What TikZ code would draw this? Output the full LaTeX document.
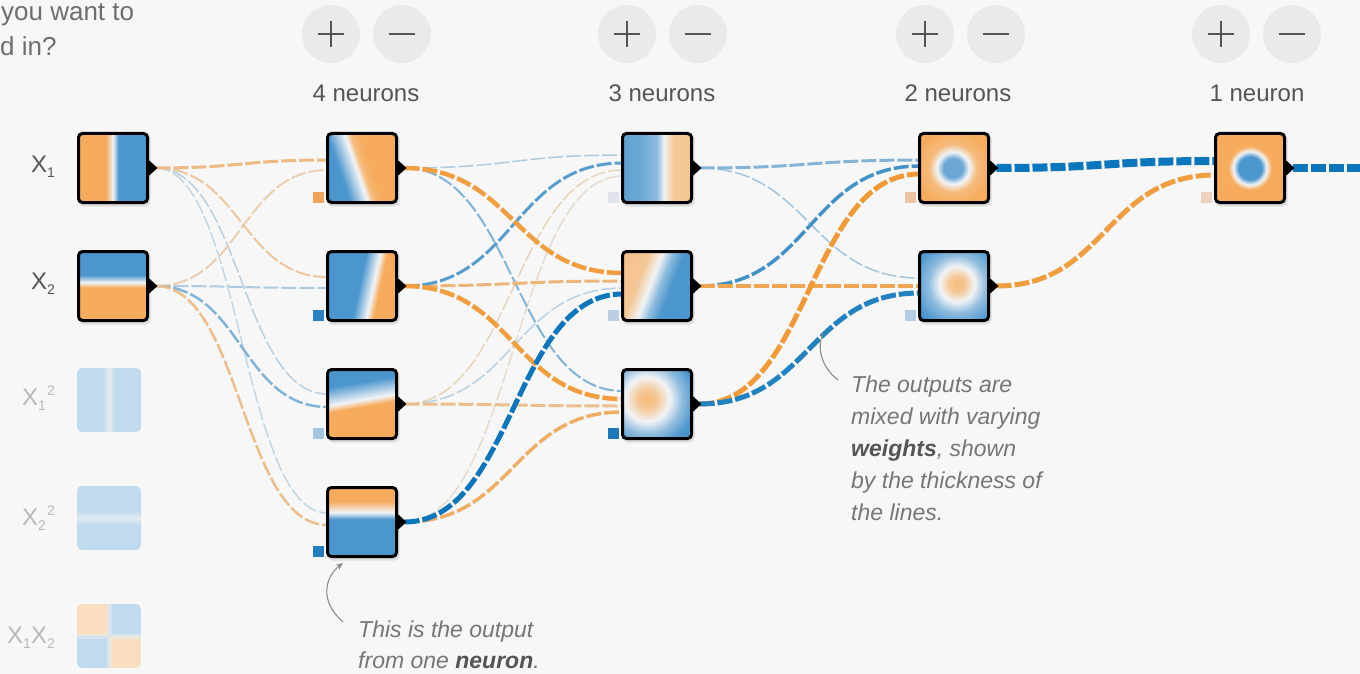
\documentclass[tikz,border=0pt]{standalone}
\usepackage{fontspec}
\setmainfont{Liberation Sans}
\usetikzlibrary{calc,arrows.meta}
\definecolor{bg}{RGB}{247,247,247}
\definecolor{pOr}{RGB}{246,172,92}
\definecolor{pBl}{RGB}{76,150,206}
\definecolor{pW}{RGB}{242,244,246}
\definecolor{lOr}{RGB}{242,150,45}
\definecolor{lBl}{RGB}{12,118,188}
\definecolor{lGr}{RGB}{228,231,234}
\definecolor{fBl}{RGB}{193,219,238}
\definecolor{fOr}{RGB}{250,222,192}
\definecolor{fW}{RGB}{226,235,242}
\definecolor{txt}{RGB}{85,85,85}
\definecolor{ftxt}{RGB}{185,185,185}
\definecolor{anntxt}{RGB}{118,118,118}
\definecolor{annln}{RGB}{140,140,140}
\definecolor{btnc}{RGB}{234,234,234}
\colorlet{bL}{pBl!60!pW}
\colorlet{bM}{pBl!82!pW}
\colorlet{oL}{pOr!62!pW}
\colorlet{oM}{pOr!80!pW}
\definecolor{cb11}{RGB}{240,165,90}
\definecolor{cb12}{RGB}{45,130,195}
\definecolor{cb13}{RGB}{165,198,225}
\definecolor{cb14}{RGB}{35,125,192}
\definecolor{cb21}{RGB}{222,228,234}
\definecolor{cb22}{RGB}{185,208,228}
\definecolor{cb23}{RGB}{30,120,190}
\definecolor{cb31}{RGB}{236,196,165}
\definecolor{cb32}{RGB}{180,205,226}
\definecolor{cbo}{RGB}{240,208,190}
% shadings for the neuron images
\pgfdeclarehorizontalshading{shXa}{100bp}{color(0bp)=(pOr); color(45bp)=(pOr); color(50bp)=(pW); color(54bp)=(pBl); color(100bp)=(pBl)}
\pgfdeclarehorizontalshading{shXb}{100bp}{color(0bp)=(pBl); color(42bp)=(pBl); color(47.5bp)=(pW); color(51bp)=(pOr); color(100bp)=(pOr)}
\pgfdeclarehorizontalshading{shF}{100bp}{color(0bp)=(fBl); color(45bp)=(fBl); color(50bp)=(fW); color(55bp)=(fBl); color(100bp)=(fBl)}
\pgfdeclarehorizontalshading{shLa}{100bp}{color(0bp)=(pBl); color(34bp)=(pBl); color(46bp)=(pW); color(50bp)=(oM); color(56bp)=(pOr); color(100bp)=(pOr)}
\pgfdeclarehorizontalshading{shLb}{100bp}{color(0bp)=(pBl); color(48bp)=(pBl); color(58bp)=(pW); color(63bp)=(pOr); color(100bp)=(pOr)}
\pgfdeclarehorizontalshading{shLc}{100bp}{color(0bp)=(pBl); color(34bp)=(pBl); color(47bp)=(pW); color(52bp)=(pOr); color(100bp)=(pOr)}
\pgfdeclarehorizontalshading{shLd}{100bp}{color(0bp)=(pOr); color(35bp)=(pOr); color(43bp)=(pW); color(48bp)=(pBl); color(100bp)=(pBl)}
\pgfdeclarehorizontalshading{shMa}{100bp}{color(0bp)=(pBl); color(38bp)=(bM); color(50bp)=(bL); color(55bp)=(pW); color(62bp)=(oL); color(100bp)=(oL)}
\pgfdeclarehorizontalshading{shMb}{100bp}{color(0bp)=(oM); color(36bp)=(oL); color(45bp)=(pW); color(52bp)=(bL); color(60bp)=(pBl); color(100bp)=(pBl)}
\pgfdeclareradialshading{shMc}{\pgfpointorigin}{color(0bp)=(oM); color(3bp)=(oL); color(7bp)=(pW); color(11bp)=(bL); color(15bp)=(pBl); color(50bp)=(pBl)}
\pgfdeclareradialshading{shNa}{\pgfpointorigin}{color(0bp)=(bM); color(3bp)=(bM); color(5bp)=(pW); color(7.5bp)=(oM); color(12bp)=(pOr); color(50bp)=(pOr)}
\pgfdeclareradialshading{shNb}{\pgfpointorigin}{color(0bp)=(oM); color(2.5bp)=(oL); color(5.5bp)=(pW); color(9bp)=(bL); color(14bp)=(pBl); color(50bp)=(pBl)}
\pgfdeclareradialshading{shO}{\pgfpointorigin}{color(0bp)=(pBl); color(3.6bp)=(pBl); color(5.2bp)=(pW); color(6.8bp)=(pOr); color(50bp)=(pOr)}
% helpers
\newcommand\nbord[1]{%
  \draw[line width=3pt, rounded corners=4pt] (#1.south west) rectangle (#1.north east);
  \fill ($(#1.east)+(0,-9)$) -- ($(#1.east)+(10,0)$) -- ($(#1.east)+(0,9)$) -- cycle;}
\newcommand\nshadow[1]{%
  \fill[black, opacity=0.10, rounded corners=5pt] ($(#1.south west)+(0,4)$) rectangle ($(#1.north east)+(3,0)$);}
\newcommand\nsq[3]{%
  \nshadow{#1}
  \begin{scope}
  \clip[rounded corners=4pt] (#1.south west) rectangle (#1.north east);
  \shade[shading=#2, shading angle=#3] (#1.south west) rectangle (#1.north east);
  \end{scope}
  \nbord{#1}}
\newcommand\nsqr[3]{%
  \nshadow{#1}
  \begin{scope}
  \clip[rounded corners=4pt] (#1.south west) rectangle (#1.north east);
  \shade[shading=#2] ($(#1.center)+(#3)$) circle (80pt);
  \end{scope}
  \nbord{#1}}
\newcommand\lnk[5]{\draw[lk, #4, line width=#5pt] ($(#1.east)+(8,0)$) .. controls +(\gap,0) and +(-\gap,0) .. ($(#2.west)+(0,#3)$);}
\newcommand\xsb[1]{\raisebox{-5pt}{\fontsize{14}{14}\selectfont #1}}
\newcommand\xsp[1]{\raisebox{10pt}{\fontsize{14}{14}\selectfont #1}}
\tikzset{
  nrn/.style={rectangle, minimum size=69pt, inner sep=0pt, outer sep=0pt},
  fin/.style={rectangle, minimum size=64pt, inner sep=0pt, outer sep=0pt},
  bias/.style={rectangle, minimum size=11pt, inner sep=0pt, outer sep=0pt, anchor=south east},
  lk/.style={dash pattern=on 15pt off 3pt, line cap=butt},
  btn/.style={circle, fill=btnc, minimum size=58pt, inner sep=0pt},
  glyph/.style={txt, line width=2.6pt},
  lbl/.style={text=txt, font=\fontsize{24}{28}\selectfont, inner sep=0pt},
  flbl/.style={text=ftxt, font=\fontsize{24}{28}\selectfont, inner sep=0pt},
  qtxt/.style={text=txt!85!white, font=\fontsize{26}{30}\selectfont, inner sep=0pt, anchor=base west},
  anno/.style={text=anntxt, font=\fontsize{23}{28}\selectfont\itshape, inner sep=0pt, anchor=base west},
  annl/.style={annln, line width=1.1pt},
}
\begin{document}
\begin{tikzpicture}[x=1pt,y=-1pt]
\useasboundingbox (0,0) rectangle (1360,674);
\fill[bg] (0,0) rectangle (1360,674);
% top-left text (cut at the left edge as in the reference)
\node[qtxt] (q1) at (1,21) {you want to};
\node[qtxt] (q2) at (0,56) {d in?};
% buttons
\foreach \i/\px/\mx in {1/331/402, 2/627/698, 3/925/996, 4/1221/1292}{
  \node[btn] (p\i) at (\px,34) {};
  \node[btn] (m\i) at (\mx,34) {};
  \draw[glyph] ($(p\i)+(-13,0)$) -- ($(p\i)+(13,0)$) ($(p\i)+(0,-13)$) -- ($(p\i)+(0,13)$);
  \draw[glyph] ($(m\i)+(-13,0)$) -- ($(m\i)+(13,0)$);
}
\node[lbl, anchor=base] (t1) at (366,102) {4 neurons};
\node[lbl, anchor=base] (t2) at (662,102) {3 neurons};
\node[lbl, anchor=base] (t3) at (958,102) {2 neurons};
\node[lbl, anchor=base] (t4) at (1257,102) {1 neuron};
% nodes
\node[nrn] (x1) at (113,168) {};
\node[nrn] (x2) at (113,286) {};
\node[fin] (x3) at (109,400) {};
\node[fin] (x4) at (109,518) {};
\node[fin] (x5) at (109,636) {};
\node[nrn] (n11) at (362,168) {};
\node[nrn] (n12) at (362,286) {};
\node[nrn] (n13) at (362,404) {};
\node[nrn] (n14) at (362,522) {};
\node[nrn] (n21) at (657,168) {};
\node[nrn] (n22) at (657,286) {};
\node[nrn] (n23) at (657,404) {};
\node[nrn] (n31) at (954,168) {};
\node[nrn] (n32) at (954,286) {};
\node[nrn] (out) at (1250,168) {};
\coordinate (oe) at (1364,168);
% input labels
\node[lbl, anchor=base east] (lx1) at (55,172) {X\xsb{1}};
\node[lbl, anchor=base east] (lx2) at (55,289) {X\xsb{2}};
\node[flbl, anchor=base east] (lx3) at (55,405) {X\xsb{1}\kern1pt\xsp{2}};
\node[flbl, anchor=base east] (lx4) at (55,525) {X\xsb{2}\kern1pt\xsp{2}};
\node[flbl, anchor=base east] (lx5) at (55,643) {X\xsb{1}X\xsb{2}};
% links: input -> layer 1
\def\gap{86}
\lnk{x1}{n13}{-10}{lBl!20!lGr}{1.5}
\lnk{x1}{n14}{-9}{lBl!15!lGr}{1.5}
\lnk{x2}{n12}{2}{lBl!25!lGr}{2}
\lnk{x2}{n11}{2}{lOr!30!lGr}{2}
\lnk{x1}{n12}{-9}{lOr!40!lGr}{2}
\lnk{x1}{n11}{-8}{lOr!55!lGr}{3}
\lnk{x2}{n13}{3}{lBl!45!lGr}{2.5}
\lnk{x2}{n14}{3}{lOr!50!lGr}{2.5}
% layer 1 -> layer 2
\def\gap{109}
\lnk{n11}{n21}{-13}{lBl!25!lGr}{1.5}
\lnk{n13}{n21}{2}{lOr!25!lGr}{1.5}
\lnk{n13}{n22}{2}{lBl!20!lGr}{1.5}
\lnk{n14}{n21}{8}{lOr!15!lGr}{1.5}
\lnk{n11}{n23}{-13}{lBl!45!lGr}{2}
\lnk{n13}{n23}{2}{lOr!50!lGr}{3}
\lnk{n12}{n22}{-5}{lOr!60!lGr}{3}
\lnk{n12}{n21}{-5}{lBl!65!lGr}{3}
\lnk{n14}{n23}{8}{lOr!70!lGr}{3.5}
\lnk{n11}{n22}{-13}{lOr!90!lGr}{4.5}
\lnk{n12}{n23}{-5}{lOr!90!lGr}{4.5}
\lnk{n14}{n22}{8}{lBl}{5}
% layer 2 -> layer 3
\def\gap{110}
\lnk{n21}{n32}{-8}{lBl!30!lGr}{1.5}
\lnk{n21}{n31}{-8}{lBl!45!lGr}{3}
\lnk{n22}{n31}{-2}{lBl!75!lGr}{3.5}
\lnk{n22}{n32}{0}{lOr!80!lGr}{3.5}
\lnk{n23}{n31}{6}{lOr!95!lGr}{5}
\lnk{n23}{n32}{7}{lBl!90!lGr}{5}
% layer 3 -> output
\lnk{n32}{out}{7}{lOr!90!lGr}{5}
\lnk{n31}{out}{-7}{lBl}{8}
\draw[lk, lBl, line width=8pt] ($(out.east)+(8,0)$) -- (oe);
% faded inputs
\begin{scope}
\clip[rounded corners=5pt] (x3.south west) rectangle (x3.north east);
\shade[shading=shF, shading angle=0] (x3.south west) rectangle (x3.north east);
\end{scope}
\begin{scope}
\clip[rounded corners=5pt] (x4.south west) rectangle (x4.north east);
\shade[shading=shF, shading angle=90] (x4.south west) rectangle (x4.north east);
\end{scope}
\begin{scope}
\clip[rounded corners=5pt] (x5.south west) rectangle (x5.north east);
\fill[fOr] (x5.north west) rectangle (x5.center);
\fill[fBl] (x5.north) rectangle (x5.east);
\fill[fBl] (x5.west) rectangle (x5.south);
\fill[fOr] (x5.center) rectangle (x5.south east);
\draw[fW, line width=5pt, opacity=0.55] (x5.north) -- (x5.south) (x5.west) -- (x5.east);
\end{scope}
% neurons
\nsq{x1}{shXa}{0}
\nsq{x2}{shXb}{-90}
\nsq{n11}{shLa}{19}
\nsq{n12}{shLb}{-12}
\nsq{n13}{shLc}{-80}
\nsq{n14}{shLd}{-90}
\nsq{n21}{shMa}{0}
\nsq{n22}{shMb}{-21}
\nsqr{n23}{shMc}{-10,-5}
\nsqr{n31}{shNa}{-1,0}
\nsqr{n32}{shNb}{3,-2}
\nsqr{out}{shO}{0,0}
% biases
\node[bias, fill=cb11] (b11) at ($(n11.south west)+(-4,0)$) {};
\node[bias, fill=cb12] (b12) at ($(n12.south west)+(-4,0)$) {};
\node[bias, fill=cb13] (b13) at ($(n13.south west)+(-4,0)$) {};
\node[bias, fill=cb14] (b14) at ($(n14.south west)+(-4,0)$) {};
\node[bias, fill=cb21] (b21) at ($(n21.south west)+(-4,0)$) {};
\node[bias, fill=cb22] (b22) at ($(n22.south west)+(-4,0)$) {};
\node[bias, fill=cb23] (b23) at ($(n23.south west)+(-4,0)$) {};
\node[bias, fill=cb31] (b31) at ($(n31.south west)+(-4,0)$) {};
\node[bias, fill=cb32] (b32) at ($(n32.south west)+(-4,0)$) {};
\node[bias, fill=cbo] (bo) at ($(out.south west)+(-4,0)$) {};
% annotations
\node[anno] (a1) at (358,637) {This is the output};
\node[anno] (a2) at (358,668) {from one \textbf{\color{txt}neuron}.};
\coordinate (ar1s) at (343,622);
\coordinate (ar1e) at (343,563);
\draw[annl, -{Stealth[length=7pt,width=6pt]}] (ar1s) .. controls (318,600) and (326,576) .. (ar1e);
\node[anno] (w1) at (851,392) {The outputs are};
\node[anno] (w2) at (851,424) {mixed with varying};
\node[anno] (w3) at (851,456) {\textbf{\color{txt}weights}, shown};
\node[anno] (w4) at (851,488) {by the thickness of};
\node[anno] (w5) at (851,520) {the lines.};
\coordinate (ar2s) at (838,380);
\coordinate (ar2e) at (823,333);
\draw[annl] (ar2s) .. controls (820,366) and (817,346) .. (ar2e);
\end{tikzpicture}
\end{document}
